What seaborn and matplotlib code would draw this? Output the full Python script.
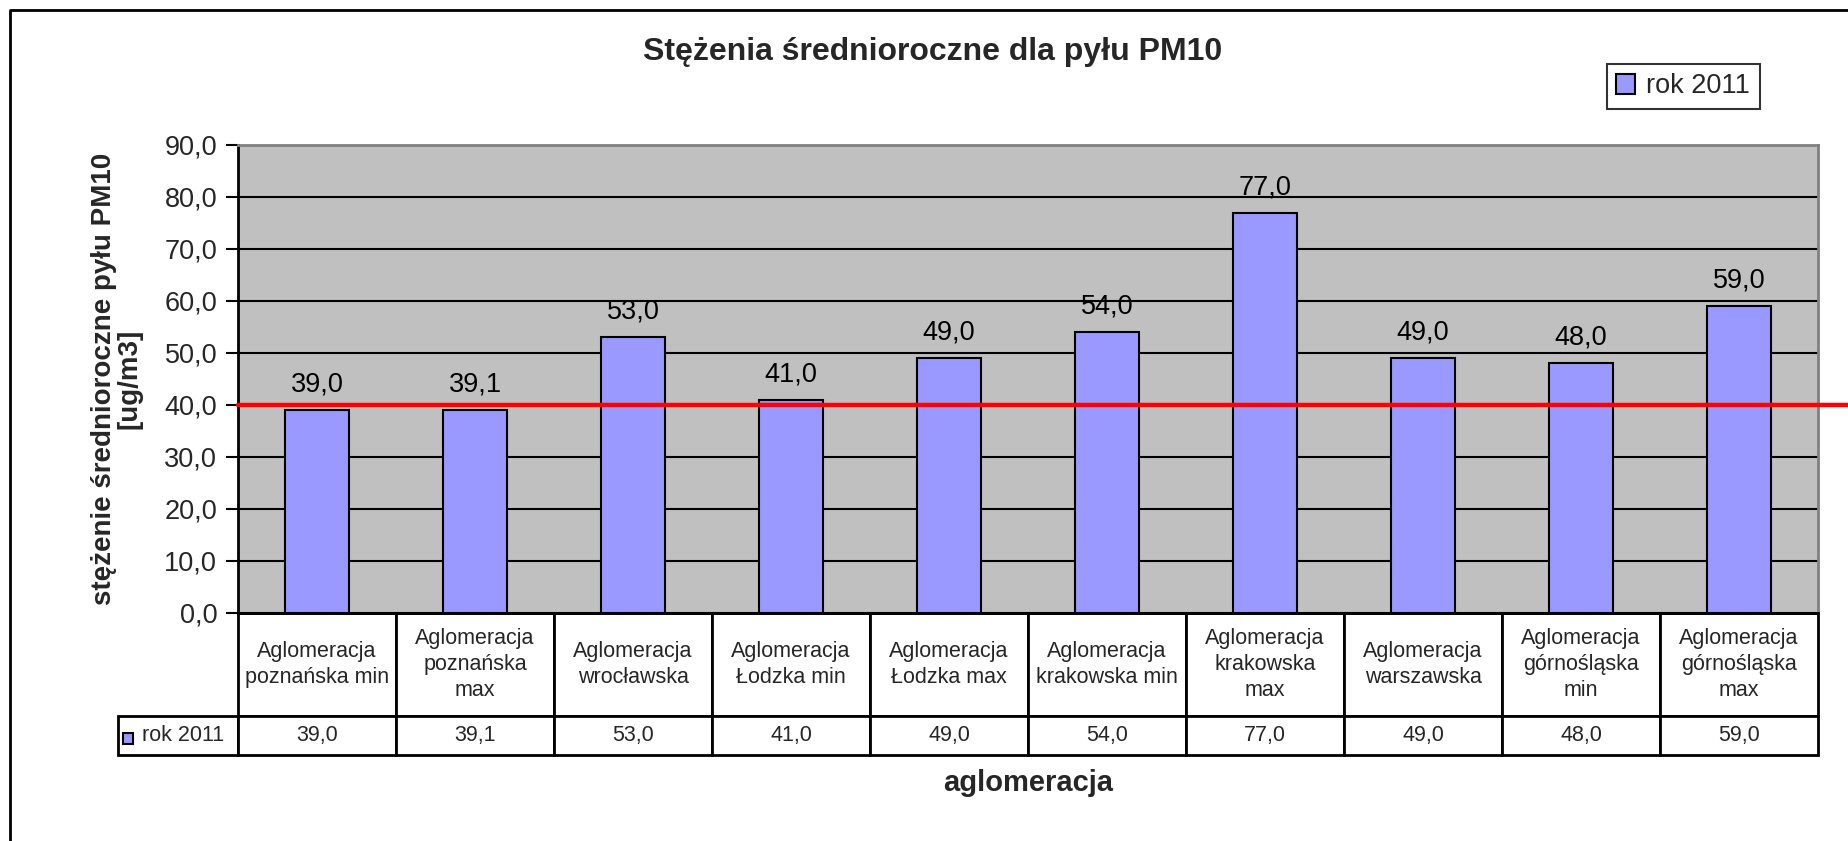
import numpy as np
import pandas as pd
import seaborn as sns
import matplotlib.pyplot as plt
from matplotlib.lines import Line2D
from matplotlib.patches import Rectangle

# data
categories = ["Aglomeracja\npoznańska min", "Aglomeracja\npoznańska\nmax",
              "Aglomeracja\nwrocławska", "Aglomeracja\nŁodzka min",
              "Aglomeracja\nŁodzka max", "Aglomeracja\nkrakowska min",
              "Aglomeracja\nkrakowska\nmax", "Aglomeracja\nwarszawska",
              "Aglomeracja\ngórnośląska\nmin", "Aglomeracja\ngórnośląska\nmax"]
values_2011 = [39.0, 39.1, 53.0, 41.0, 49.0, 54.0, 77.0, 49.0, 48.0, 59.0]
series_name = "rok 2011"
limit_value = 40.0
y_ticks = [0, 10, 20, 30, 40, 50, 60, 70, 80, 90]


def pl(v):
    # polish decimal comma
    return f"{v:.1f}".replace(".", ",")


sns.set_theme(style="white")
plt.rcParams['font.family'] = ['Liberation Sans', 'DejaVu Sans']

W, H = 1849, 841
fig = plt.figure(figsize=(W / 100, H / 100), dpi=100)
ax_l, ax_r, ax_t, ax_b = 238, 1818, 145, 613
ax = fig.add_axes([ax_l / W, 1 - ax_b / H, (ax_r - ax_l) / W, (ax_b - ax_t) / H])
ax.set_facecolor("#C0C0C0")

df = pd.DataFrame({"aglomeracja": categories, "wartosc": values_2011})
sns.barplot(data=df, x="aglomeracja", y="wartosc", color="#9999FF", saturation=1,
            width=0.4, edgecolor="black", linewidth=1.5, label=series_name, ax=ax, zorder=3)

# value labels above bars
for i, v in enumerate(values_2011):
    ax.annotate(pl(v), (i, v), xytext=(0, 9), textcoords="offset points",
                ha="center", va="bottom", fontsize=19.5, color="black")

ax.set_ylim(0, 90)
ax.set_xlim(-0.5, len(categories) - 0.5)
ax.set_yticks(y_ticks)
ax.set_yticklabels([pl(t) for t in y_ticks], fontsize=19.5)
ax.tick_params(axis="y", which="major", left=True, length=9, width=1.5, color="black", pad=6)
ax.tick_params(axis="x", bottom=False, labelbottom=False)
ax.set_xlabel("")
ax.set_ylabel("")
ax.yaxis.grid(True, color="black", linewidth=1.5, zorder=1)
ax.set_axisbelow(True)
ax.spines["left"].set_color("black")
ax.spines["bottom"].set_color("black")
ax.spines["top"].set_color("#808080")
ax.spines["right"].set_color("#808080")
for s in ax.spines.values():
    s.set_linewidth(2)
    s.set_visible(True)

# limit line, runs past the plot to the image edge
ax.axhline(limit_value, xmin=0, xmax=(W - ax_l) / (ax_r - ax_l), color="#FF0000",
           linewidth=3.2, zorder=5, clip_on=False)

# data table under the plot
ph = ax_b - ax_t
pw = ax_r - ax_l
lab_w = (ax_l - 118) / pw
cell_text = [[""] + categories, [series_name] + [pl(v) for v in values_2011]]
col_w = [lab_w] + [1.0 / len(categories)] * len(categories)
tbl = ax.table(cellText=cell_text, colWidths=col_w, cellLoc="center",
               bbox=[-lab_w, -(755 - ax_b) / ph, 1 + lab_w, (755 - ax_b) / ph])
tbl.auto_set_font_size(False)
tbl.set_fontsize(15.5)
for (r, c), cell in tbl.get_celld().items():
    cell.set_linewidth(2)
    cell.set_edgecolor("black")
    cell.set_height((103 if r == 0 else 39) / ph)
    cell.get_text().set_linespacing(1.3)
    if r == 0 and c == 0:
        cell.visible_edges = "open"
    if r == 1 and c == 0:
        cell.get_text().set_ha("left")
        cell.PAD = 0.2
ax.add_patch(Rectangle((-(ax_l - 123) / pw, -(744 - ax_b) / ph), 10 / pw, 11 / ph,
                       transform=ax.transAxes, facecolor="#9999FF", edgecolor="black",
                       linewidth=1.5, clip_on=False, zorder=6))

# legend
leg = ax.legend(loc="upper left", bbox_to_anchor=(1607 / W, 1 - 64 / H),
                bbox_transform=fig.transFigure, borderaxespad=0, fontsize=19.5,
                frameon=True, fancybox=False, handlelength=0.7, handleheight=0.8,
                handletextpad=0.4, borderpad=0.35)
leg.get_frame().set_edgecolor("black")
leg.get_frame().set_linewidth(1.5)

# titles
fig.text(933 / W, 1 - 52 / H, "Stężenia średnioroczne dla pyłu PM10",
         ha="center", va="center", fontsize=23, fontweight="bold")
fig.text(117 / W, 1 - 379 / H, "stężenie średnioroczne pyłu PM10\n[ug/m3]",
         ha="center", va="center", rotation=90, fontsize=20, fontweight="bold",
         multialignment="center", linespacing=1.0)
fig.text(1028 / W, 1 - 783 / H, "aglomeracja", ha="center", va="center",
         fontsize=21, fontweight="bold")

# outer chart frame (left and top edges visible)
fig.add_artist(Line2D([10 / W, 10 / W, 1], [0, 1 - 10 / H, 1 - 10 / H],
                      transform=fig.transFigure, color="black", linewidth=2))

plt.savefig("out.png", dpi=100)
